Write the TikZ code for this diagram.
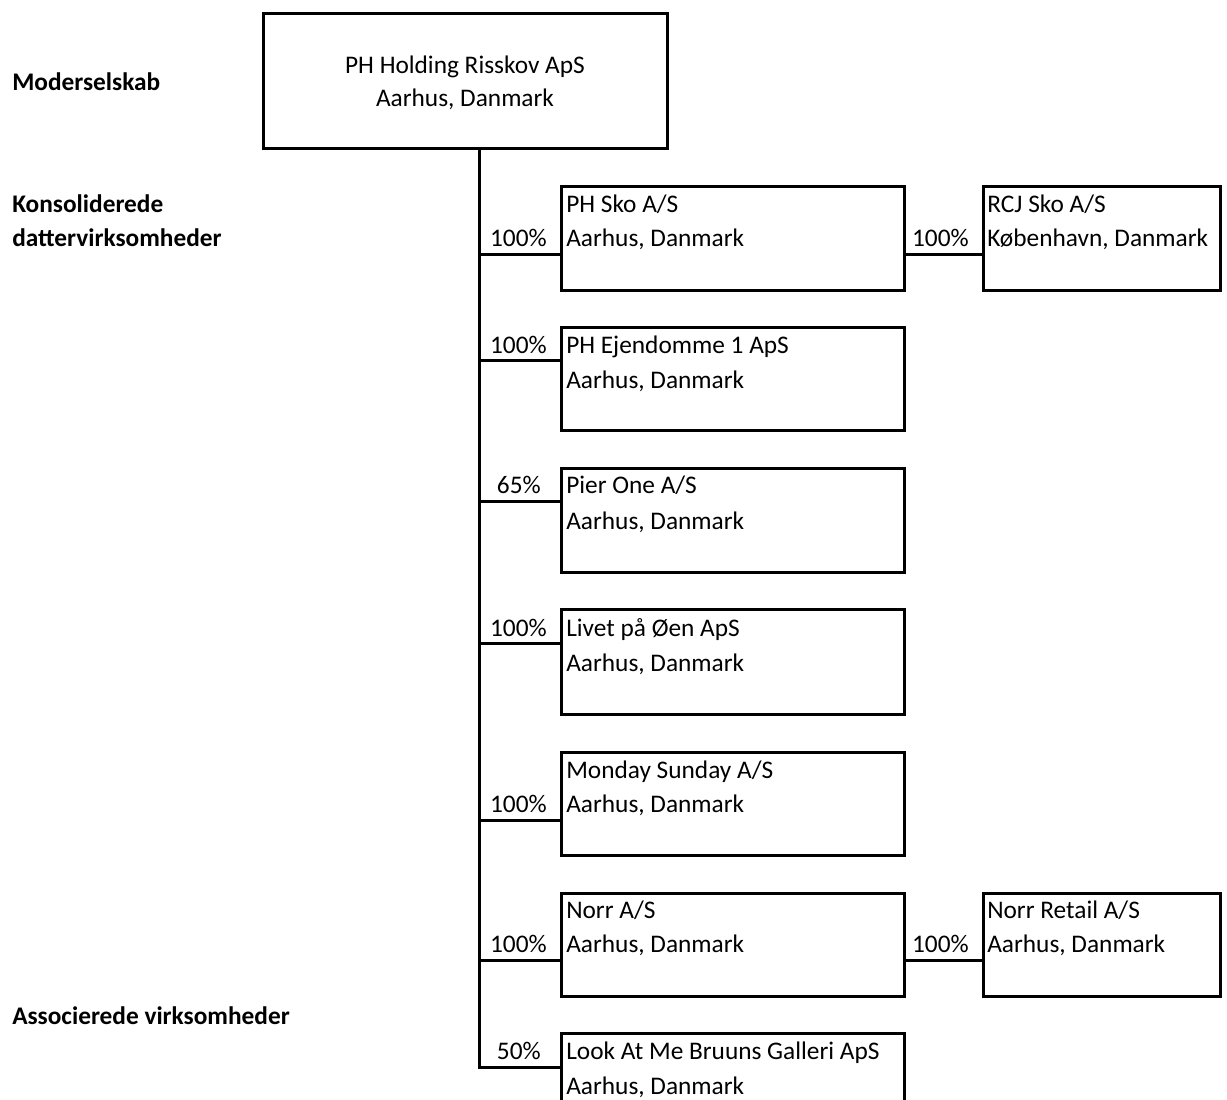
\documentclass[tikz,border=0pt]{standalone}
\usepackage{fontspec}
\setmainfont{Carlito}
\begin{document}
\begin{tikzpicture}[x=0.75pt,y=-0.75pt,
  box/.style={draw,line width=2.25pt,rectangle,inner sep=0pt,anchor=north west,
    minimum width=#1*0.75pt},
  box/.default=343,
  txt/.style={anchor=base west,inner sep=0pt,font=\fontsize{19}{23}\selectfont},
  ctxt/.style={anchor=base,inner sep=0pt,font=\fontsize{19}{23}\selectfont},
  pct/.style={anchor=base east,inner sep=0pt,font=\fontsize{19}{23}\selectfont},
  side/.style={anchor=base west,inner sep=0pt,font=\fontsize{19}{23}\selectfont\bfseries},
  conn/.style={line width=2.25pt}]
\clip (0,0) rectangle (1227,1099);
% left labels
\node[side] (l1) at (12,90) {Moderselskab};
\node[side] (l2) at (12,212) {Konsoliderede};
\node[side] (l3) at (12,246) {dattervirksomheder};
\node[side] (l4) at (12,1024) {Associerede virksomheder};
% top box
\node[box=404,minimum height=135*0.75pt] (top) at (262,12) {};
\node[ctxt] (topt1) at (465,74) {PH Holding Risskov ApS};
\node[ctxt] (topt2) at (465,107) {Aarhus, Danmark};
% subsidiaries
\node[box,minimum height=104*0.75pt] (b1) at (560,185) {};
\node[box,minimum height=103*0.75pt] (b2) at (560,326) {};
\node[box,minimum height=104*0.75pt] (b3) at (560,467) {};
\node[box,minimum height=105*0.75pt] (b4) at (560,608) {};
\node[box,minimum height=103*0.75pt] (b5) at (560,751) {};
\node[box,minimum height=103*0.75pt] (b6) at (560,892) {};
\node[box,minimum height=110*0.75pt] (b7) at (560,1032) {};
\node[box=237,minimum height=104*0.75pt] (r1) at (982,185) {};
\node[box=237,minimum height=103*0.75pt] (r6) at (982,892) {};
% texts
\node[txt] (b1a) at (566,212) {PH Sko A/S};
\node[txt] (b1b) at (566,246) {Aarhus, Danmark};
\node[txt] (b2a) at (566,353) {PH Ejendomme 1 ApS};
\node[txt] (b2b) at (566,388) {Aarhus, Danmark};
\node[txt] (b3a) at (566,493) {Pier One A/S};
\node[txt] (b3b) at (566,529) {Aarhus, Danmark};
\node[txt] (b4a) at (566,636) {Livet på Øen ApS};
\node[txt] (b4b) at (566,671) {Aarhus, Danmark};
\node[txt] (b5a) at (566,778) {Monday Sunday A/S};
\node[txt] (b5b) at (566,812) {Aarhus, Danmark};
\node[txt] (b6a) at (566,918) {Norr A/S};
\node[txt] (b6b) at (566,952) {Aarhus, Danmark};
\node[txt] (b7a) at (566,1059) {Look At Me Bruuns Galleri ApS};
\node[txt] (b7b) at (566,1094) {Aarhus, Danmark};
\node[txt] (r1a) at (987,212) {RCJ Sko A/S};
\node[txt] (r1b) at (987,246) {København, Danmark};
\node[txt] (r6a) at (987,918) {Norr Retail A/S};
\node[txt] (r6b) at (987,952) {Aarhus, Danmark};
% percentages
\node[pct] (p1) at (547,246) {100\%};
\node[pct] (p2) at (547,353) {100\%};
\node[pct] (p3) at (541,493) {65\%};
\node[pct] (p4) at (547,636) {100\%};
\node[pct] (p5) at (547,812) {100\%};
\node[pct] (p6) at (547,952) {100\%};
\node[pct] (p7) at (541,1059) {50\%};
\node[pct] (q1) at (969,246) {100\%};
\node[pct] (q6) at (969,952) {100\%};
% connectors
\coordinate (t0) at (479,147);
\coordinate (c1) at (560,254);
\coordinate (c2) at (560,360);
\coordinate (c3) at (560,501);
\coordinate (c4) at (560,643);
\coordinate (c5) at (560,820);
\coordinate (c6) at (560,960);
\coordinate (c7) at (560,1067);
\coordinate (d1) at (903,254);
\coordinate (e1) at (982,254);
\coordinate (d6) at (903,960);
\coordinate (e6) at (982,960);
\draw[conn,line join=miter] (t0) |- (c7);
\foreach \c in {c1,c2,c3,c4,c5,c6}{
  \draw[conn] (\c) -- (\c -| t0);
}
\draw[conn] (d1) -- (e1);
\draw[conn] (d6) -- (e6);
\end{tikzpicture}
\end{document}
